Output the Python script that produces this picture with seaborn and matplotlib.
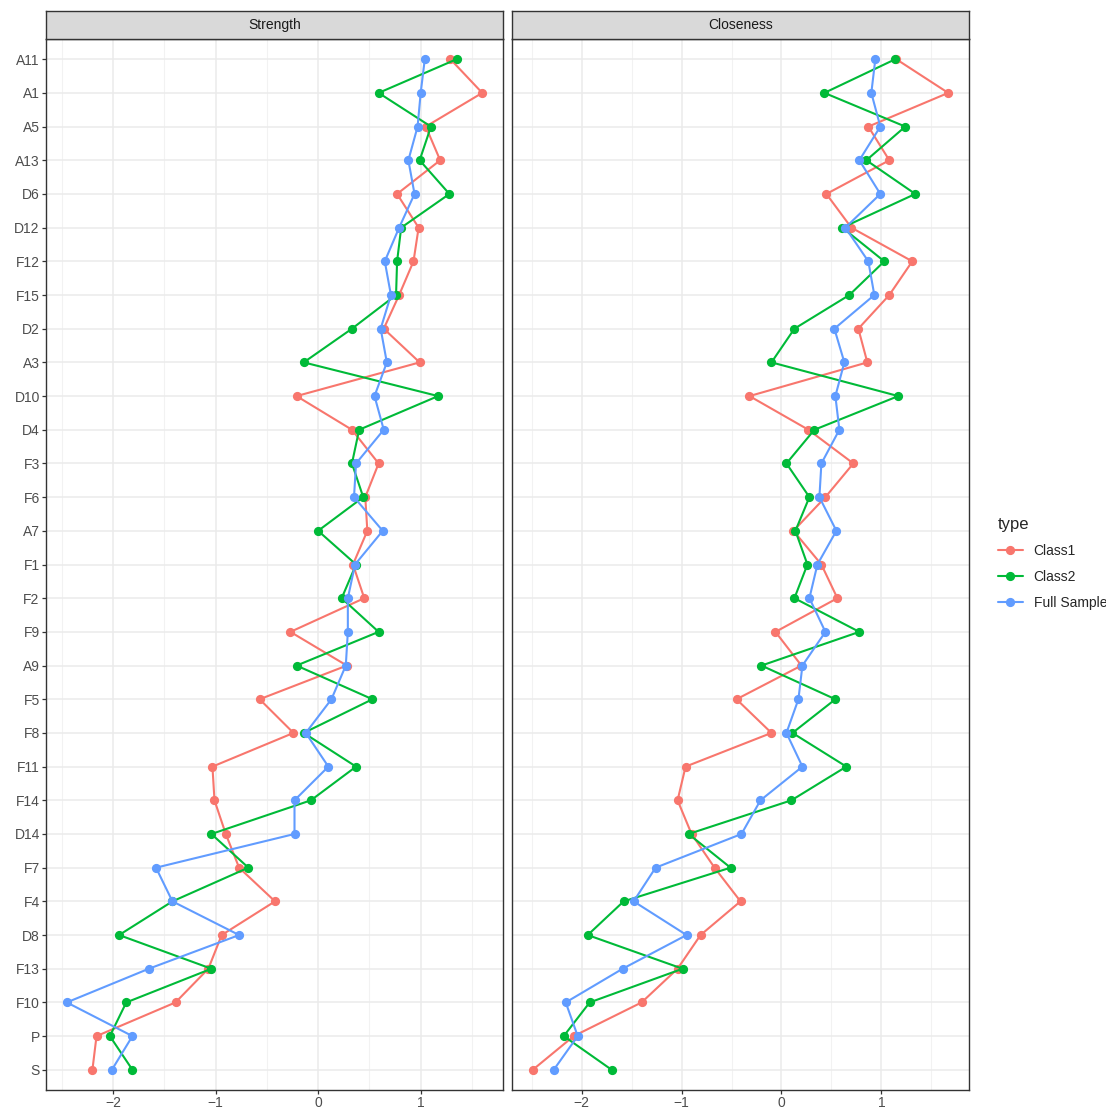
import pandas as pd
import matplotlib
matplotlib.use("Agg")
import matplotlib.pyplot as plt
import seaborn as sns
from matplotlib.ticker import MultipleLocator

# nodes, top to bottom
nodes = ["A11", "A1", "A5", "A13", "D6", "D12", "F12", "F15", "D2", "A3", "D10",
         "D4", "F3", "F6", "A7", "F1", "F2", "F9", "A9", "F5", "F8", "F11",
         "F14", "D14", "F7", "F4", "D8", "F13", "F10", "P", "S"]

groups = ["Class1", "Class2", "Full Sample"]
colors = ["#F8766D", "#00BA38", "#619CFF"]

strength_class1 = [1.29, 1.60, 1.05, 1.19, 0.77, 0.98, 0.93, 0.79, 0.64, 0.99, -0.21,
                   0.33, 0.59, 0.46, 0.48, 0.34, 0.45, -0.27, 0.28, -0.57, -0.24, -1.03,
                   -1.01, -0.90, -0.77, -0.42, -0.94, -1.07, -1.39, -2.16, -2.20]
strength_class2 = [1.35, 0.59, 1.10, 0.99, 1.28, 0.81, 0.77, 0.76, 0.33, -0.14, 1.17,
                   0.40, 0.33, 0.44, 0.00, 0.37, 0.23, 0.59, -0.21, 0.53, -0.14, 0.37,
                   -0.07, -1.04, -0.68, -1.42, -1.94, -1.04, -1.87, -2.03, -1.81]
strength_full = [1.04, 1.00, 0.97, 0.88, 0.94, 0.79, 0.65, 0.71, 0.61, 0.67, 0.55,
                 0.64, 0.37, 0.35, 0.63, 0.36, 0.29, 0.29, 0.27, 0.13, -0.12, 0.10,
                 -0.23, -0.23, -1.58, -1.42, -0.77, -1.65, -2.45, -1.81, -2.01]

closeness_class1 = [1.15, 1.67, 0.87, 1.08, 0.45, 0.70, 1.31, 1.08, 0.77, 0.86, -0.32,
                    0.27, 0.72, 0.44, 0.12, 0.40, 0.56, -0.06, 0.20, -0.45, -0.10, -0.96,
                    -1.04, -0.90, -0.67, -0.41, -0.81, -1.04, -1.40, -2.08, -2.49]
closeness_class2 = [1.14, 0.43, 1.24, 0.85, 1.34, 0.61, 1.03, 0.68, 0.13, -0.10, 1.17,
                    0.33, 0.05, 0.28, 0.14, 0.26, 0.13, 0.78, -0.20, 0.54, 0.11, 0.65,
                    0.10, -0.93, -0.51, -1.58, -1.94, -0.99, -1.92, -2.18, -1.70]
closeness_full = [0.94, 0.90, 0.99, 0.78, 0.99, 0.64, 0.87, 0.93, 0.53, 0.63, 0.54,
                  0.58, 0.40, 0.38, 0.55, 0.36, 0.28, 0.44, 0.21, 0.17, 0.05, 0.21,
                  -0.21, -0.40, -1.26, -1.48, -0.95, -1.59, -2.16, -2.04, -2.28]

measures = {
    "Strength": [strength_class1, strength_class2, strength_full],
    "Closeness": [closeness_class1, closeness_class2, closeness_full],
}

rows = []
for measure, series in measures.items():
    for g, vals in zip(groups, series):
        for n, v in zip(nodes, vals):
            rows.append({"measure": measure, "type": g, "node": n, "value": v})
df = pd.DataFrame(rows)

sns.set_style("white")
plt.rcParams["font.family"] = ["Liberation Sans", "DejaVu Sans"]

W, H = 1106, 1110
fig = plt.figure(figsize=(W / 100, H / 100), dpi=100)

panel_left = [46, 512]
panel_w = 457
panel_top, panel_bot = 39, 1090
strip_top = 11
border = "#333333"

for i, measure in enumerate(measures):
    x0 = panel_left[i] / W
    ax = fig.add_axes([x0, 1 - panel_bot / H, panel_w / W, (panel_bot - panel_top) / H])
    sub = df[df["measure"] == measure]
    sns.pointplot(data=sub, x="value", y="node", hue="type", order=nodes,
                  hue_order=groups, palette=colors, orient="h", errorbar=None,
                  markers="o", linestyles="-", markersize=5.5, linewidth=1.5,
                  ax=ax, zorder=3)
    lo, hi = sub["value"].min(), sub["value"].max()
    pad = (hi - lo) * 0.05
    ax.set_xlim(lo - pad, hi + pad)
    ax.set_ylim(len(nodes) - 1 + 0.6, -0.6)
    ax.xaxis.set_major_locator(MultipleLocator(1))
    ax.xaxis.set_minor_locator(MultipleLocator(0.5))
    ax.grid(True, which="major", color="#EBEBEB", linewidth=1.1, zorder=0)
    ax.grid(True, which="minor", axis="x", color="#F2F2F2", linewidth=0.8, zorder=0)
    ax.set_axisbelow(True)
    ax.set_xlabel("")
    ax.set_ylabel("")
    ax.set_xticks([-2, -1, 0, 1])
    ax.set_xticklabels(["\u22122", "\u22121", "0", "1"])
    ax.tick_params(axis="both", which="major", length=3, width=0.9, color=border,
                   labelcolor="#4D4D4D", labelsize=10, pad=1.5)
    ax.tick_params(axis="x", which="minor", length=0)
    ax.tick_params(left=True, bottom=True)
    if i == 1:
        ax.set_yticklabels([])
        ax.tick_params(axis="y", length=0)
    for s in ax.spines.values():
        s.set_color(border)
        s.set_linewidth(1.0)
    if ax.get_legend() is not None:
        handles, labels = ax.get_legend_handles_labels()
        ax.get_legend().remove()

    # facet strip
    sax = fig.add_axes([x0, 1 - panel_top / H, panel_w / W, (panel_top - strip_top) / H])
    sax.set_facecolor("#D9D9D9")
    sax.set_xticks([])
    sax.set_yticks([])
    for s in sax.spines.values():
        s.set_color(border)
        s.set_linewidth(1.0)
    sax.text(0.5, 0.5, measure, ha="center", va="center", fontsize=10,
             color="#1A1A1A", transform=sax.transAxes)

leg = fig.legend(handles, labels, title="type", loc="upper left",
                 bbox_to_anchor=(985 / W, 1 - 505 / H), frameon=False,
                 fontsize=10, title_fontsize=12, handlelength=1.8,
                 labelspacing=0.85, alignment="left")

fig.savefig("out.png", dpi=100)
